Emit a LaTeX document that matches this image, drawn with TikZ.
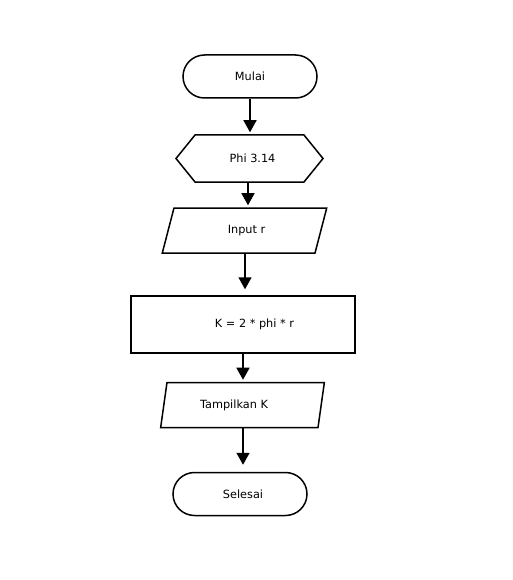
\documentclass[tikz,border=0pt]{standalone}
\usepackage{fontspec}
\setmainfont{DejaVu Sans}
\usetikzlibrary{arrows.meta,shapes.misc,shapes.geometric,shapes.symbols}

\begin{document}
\begin{tikzpicture}[x=1pt,y=-1pt,
		box/.style={draw,line width=1.5pt,inner sep=0pt,font=\fontsize{11.3}{13}\selectfont},
		terminal/.style={box,rounded rectangle,minimum width=134pt,minimum height=43pt},
		prep/.style={box,signal,signal to=west and east,signal pointer angle=102,minimum width=147pt,minimum height=47pt},
		io/.style={box,trapezium,trapezium left angle=72,trapezium right angle=108,trapezium stretches=true,minimum width=165pt,minimum height=45pt},
		process/.style={box,rectangle,minimum width=224pt,minimum height=57pt},
		>={Triangle[length=12pt,width=13pt]}]
	\useasboundingbox (0,0) rectangle (513,580);

	\node[terminal] (Mulai) at (250,76.5) {Mulai};
	\node[prep] (Phi) at (249.5,158.5) {\hspace*{6pt}Phi 3.14};
	\node[io] (Input) at (244.5,230.5) {\hspace*{4pt}Input r};
	\node[process] (K) at (243,324.5) {\hspace*{23pt}K = 2 * phi * r};
	\node[io] (Tampil) at (242.5,405) {Tampilkan K\hspace*{17pt}};
	\node[terminal] (Selesai) at (240,494) {\hspace*{6pt}Selesai};

	\path [->,line width=1.5pt,shorten >=2pt] (Mulai.south) edge (Mulai.south |- Phi.north);
	\path [->,line width=1.5pt,shorten >=2pt] ([xshift=-1.5pt]Phi.south) edge ([xshift=-1.5pt]Phi.south |- Input.north);
	\path [->,line width=1.5pt,shorten >=6pt] ([xshift=0.5pt]Input.south) edge ([xshift=0.5pt]Input.south |- K.north);
	\path [->,line width=1.5pt,shorten >=2pt] (K.south) edge (K.south |- Tampil.north);
	\path [->,line width=1.5pt,shorten >=7pt] ([xshift=0.5pt]Tampil.south) edge ([xshift=0.5pt]Tampil.south |- Selesai.north);
\end{tikzpicture}
\end{document}
